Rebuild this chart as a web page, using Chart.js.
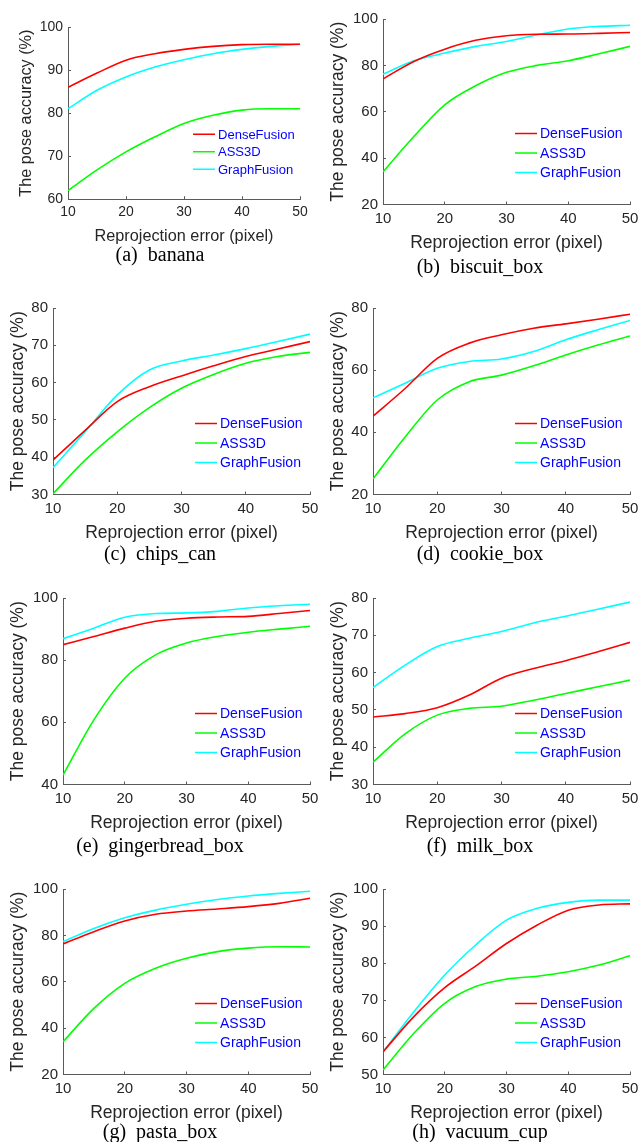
<!DOCTYPE html>
<html>
<head>
<meta charset="utf-8">
<script src="https://cdn.jsdelivr.net/npm/chart.js@4/dist/chart.umd.min.js"></script>
<style>
    body { margin: 0; background: #fff; width: 640px; height: 1142px; position: relative; overflow: hidden; }
    canvas { position: absolute; }
    .cap {
        position: absolute; width: 320px; text-align: center; color: #000;
        font-family: "Liberation Serif", "Times New Roman", serif;
        font-size: 20px; line-height: 20px; white-space: pre;
    }
</style>
</head>
<body>
<script>
// Shared axis data
const errorPixels = [10, 15, 20, 25, 30, 35, 40, 45, 50];
const methodNames = ['DenseFusion', 'ASS3D', 'GraphFusion'];
const methodColors = ['#ff0000', '#00ff00', '#00ffff'];

// Pose accuracy (%), at errorPixels
const bananaDense   = [86, 89.3, 92.3, 93.8, 94.8, 95.5, 95.9, 96, 96];
const bananaAss     = [62, 66.8, 71, 74.5, 77.6, 79.5, 80.7, 81, 81];
const bananaGraph   = [81, 85.3, 88.4, 90.7, 92.4, 93.8, 94.8, 95.5, 96];

const biscuitDense  = [74.2, 81.7, 87, 90.8, 92.8, 93.4, 93.5, 93.8, 94.2];
const biscuitAss    = [34.1, 49.3, 63, 71.2, 77, 80, 82, 85, 88.2];
const biscuitGraph  = [76.2, 82, 85.3, 88.2, 90.3, 93.2, 95.7, 96.8, 97.3];

const chipsDense    = [39.2, 47.2, 54.9, 58.9, 61.8, 64.5, 67, 69, 71];
const chipsAss      = [30.2, 39.2, 46.8, 53.3, 58.5, 62.2, 65.2, 67, 68.1];
const chipsGraph    = [37.2, 46.8, 56.7, 63.4, 65.8, 67.4, 69.1, 71, 73];

const cookieDense   = [45.2, 54.1, 63.8, 68.7, 71.4, 73.5, 74.9, 76.4, 78];
const cookieAss     = [25, 38.5, 50.4, 56.3, 58.4, 61.4, 64.9, 68.1, 71];
const cookieGraph   = [51.1, 55.8, 60.6, 62.8, 63.6, 66, 69.8, 73, 76];

const gingerDense   = [85, 87.6, 90.3, 92.5, 93.5, 93.9, 94.1, 95, 96];
const gingerAss     = [43, 60.8, 74.2, 81.7, 85.5, 87.6, 89, 90, 90.9];
const gingerGraph   = [86.9, 90.3, 93.8, 95, 95.2, 95.7, 96.8, 97.5, 98];

const milkDense     = [48.1, 49, 50.6, 54, 58.5, 61.1, 63.2, 65.6, 68.1];
const milkAss       = [36, 43.6, 48.6, 50.4, 51, 52.6, 54.4, 56.2, 58];
const milkGraph     = [56, 62, 67, 69.2, 71, 73.3, 75.1, 77, 78.9];

const pastaDense    = [76.3, 81.6, 86.2, 89.1, 90.5, 91.4, 92.4, 93.8, 96];
const pastaAss      = [34.1, 48.5, 59.3, 65.8, 70.1, 73, 74.5, 75.1, 75];
const pastaGraph    = [77.3, 83, 87.6, 90.9, 93.4, 95.5, 97, 98.1, 99];

const vacuumDense   = [56.1, 65.6, 73.4, 79.2, 85.3, 90.3, 94.3, 95.7, 96];
const vacuumAss     = [51.2, 61.1, 69.2, 73.7, 75.7, 76.5, 77.7, 79.5, 82];
const vacuumGraph   = [56.1, 66.9, 76.8, 84.9, 91.6, 94.8, 96.4, 97, 97];

// Panel captions and y ranges
const captions = ['(a)  banana', '(b)  biscuit_box', '(c)  chips_can', '(d)  cookie_box',
                  '(e)  gingerbread_box', '(f)  milk_box', '(g)  pasta_box', '(h)  vacuum_cup'];
const yMins  = [60, 20, 30, 20, 40, 30, 20, 50];
const yMaxs  = [100, 100, 80, 80, 100, 80, 100, 100];
const ySteps = [10, 20, 10, 20, 20, 10, 20, 10];

const panelSeries = [
    [bananaDense, bananaAss, bananaGraph],
    [biscuitDense, biscuitAss, biscuitGraph],
    [chipsDense, chipsAss, chipsGraph],
    [cookieDense, cookieAss, cookieGraph],
    [gingerDense, gingerAss, gingerGraph],
    [milkDense, milkAss, milkGraph],
    [pastaDense, pastaAss, pastaGraph],
    [vacuumDense, vacuumAss, vacuumGraph]
];

// Page layout: cell left, plot box (left, right, top, bottom), font scale, caption centre
const panelLayout = [
    { cx: 0,   L: 68,  R: 300, T: 27,  B: 199,  fs: 0.93, cap: 254 },
    { cx: 320, L: 383, R: 630, T: 19,  B: 204,  fs: 1,    cap: 266 },
    { cx: 0,   L: 53,  R: 310, T: 308, B: 494,  fs: 1,    cap: 553 },
    { cx: 320, L: 373, R: 630, T: 308, B: 494,  fs: 1,    cap: 553 },
    { cx: 0,   L: 63,  R: 310, T: 598, B: 784,  fs: 1,    cap: 845 },
    { cx: 320, L: 373, R: 630, T: 598, B: 784,  fs: 1,    cap: 845 },
    { cx: 0,   L: 63,  R: 310, T: 889, B: 1074, fs: 1,    cap: 1131 },
    { cx: 320, L: 383, R: 630, T: 889, B: 1074, fs: 1,    cap: 1131 }
];

const FONT = '"Liberation Sans", Arial, sans-serif';
const TEXT_COLOR = '#262626';
const AXIS_COLOR = '#5a5a5a';
const TICK_IN = 3;   // inward tick marks, matlab style

// Legend drawn inside the plot area, lower right
const insideLegend = {
    id: 'insideLegend',
    afterDatasetsDraw(chart, args, opts) {
        const { ctx, chartArea } = chart;
        const x0 = chartArea.right - opts.dx;
        ctx.save();
        ctx.font = opts.size + 'px ' + FONT;
        ctx.textBaseline = 'middle';
        ctx.textAlign = 'left';
        chart.data.datasets.forEach((ds, i) => {
            const y = chartArea.bottom - opts.dy + i * opts.gap;
            ctx.strokeStyle = ds.borderColor;
            ctx.lineWidth = 1.5;
            ctx.beginPath();
            ctx.moveTo(x0, y);
            ctx.lineTo(x0 + opts.lineLen, y);
            ctx.stroke();
            ctx.fillStyle = '#0000ff';
            ctx.fillText(ds.label, x0 + opts.lineLen + 3, y + 1);
        });
        ctx.restore();
    }
};

function makePanel(idx) {
    const lay = panelLayout[idx];
    const fs = lay.fs;
    const tickSize = 15 * fs;
    const titleSize = 17.5 * fs;
    const titleLH = titleSize * 1.2;
    const topPad = 14;
    const xAxisH = (idx === 0 ? 37 : 39) + titleLH / 2;
    const yTitleCenter = idx === 0 ? 27 : 18;

    const canvas = document.createElement('canvas');
    const h = Math.round(lay.B - lay.T + topPad + xAxisH);
    canvas.width = 320;
    canvas.height = h;
    canvas.style.left = lay.cx + 'px';
    canvas.style.top = (lay.T - topPad) + 'px';
    canvas.style.width = '320px';
    canvas.style.height = h + 'px';
    document.body.appendChild(canvas);

    const cap = document.createElement('div');
    cap.className = 'cap';
    cap.style.left = lay.cx + 'px';
    cap.style.top = (lay.cap - 10) + 'px';
    cap.textContent = captions[idx];
    document.body.appendChild(cap);

    const datasets = panelSeries[idx].map((vals, i) => ({
        label: methodNames[i],
        data: errorPixels.map((x, j) => ({ x: x, y: vals[j] })),
        borderColor: methodColors[i],
        backgroundColor: methodColors[i],
        borderWidth: 1.6,
        pointRadius: 0,
        cubicInterpolationMode: 'monotone',
        fill: false
    }));

    const gridOpts = {
        display: true, drawOnChartArea: false, drawTicks: true,
        tickLength: -TICK_IN, color: AXIS_COLOR, lineWidth: 1
    };

    return new Chart(canvas.getContext('2d'), {
        type: 'line',
        data: { datasets: datasets },
        plugins: [insideLegend],
        options: {
            responsive: false,
            animation: false,
            devicePixelRatio: 1,
            layout: { padding: { top: topPad, right: lay.cx + 320 - lay.R, left: 0, bottom: 0 } },
            plugins: {
                legend: { display: false },
                tooltip: { enabled: false },
                insideLegend: {
                    dx: idx === 0 ? 107 : 115,
                    dy: idx === 0 ? 65 : 71,
                    gap: idx === 0 ? 17.5 : 19.5,
                    lineLen: 22,
                    size: 14 * fs
                }
            },
            scales: {
                x: {
                    type: 'linear',
                    min: 10, max: 50,
                    ticks: { stepSize: 10, padding: 5 + TICK_IN, color: TEXT_COLOR, font: { family: FONT, size: tickSize } },
                    grid: gridOpts,
                    border: { display: true, color: AXIS_COLOR, width: 1 },
                    title: {
                        display: true, text: 'Reprojection error (pixel)', color: TEXT_COLOR,
                        font: { family: FONT, size: titleSize, lineHeight: 1.2 },
                        padding: { top: 0, bottom: 0 }
                    },
                    afterFit(scale) {
                        scale.height = xAxisH;
                        scale.paddingLeft = 0;
                        scale.paddingRight = 0;
                    }
                },
                y: {
                    min: yMins[idx], max: yMaxs[idx],
                    ticks: { stepSize: ySteps[idx], padding: 5 + TICK_IN, color: TEXT_COLOR, font: { family: FONT, size: tickSize } },
                    grid: gridOpts,
                    border: { display: true, color: AXIS_COLOR, width: 1 },
                    title: {
                        display: true, text: 'The pose accuracy (%)', color: TEXT_COLOR,
                        font: { family: FONT, size: titleSize, lineHeight: 1.2 },
                        padding: { top: yTitleCenter - titleLH / 2, bottom: 0 }
                    },
                    afterFit(scale) {
                        scale.width = lay.L - lay.cx;
                        scale.paddingTop = 0;
                        scale.paddingBottom = 0;
                    }
                }
            }
        }
    });
}

for (let i = 0; i < panelLayout.length; i++) {
    makePanel(i);
}
</script>
</body>
</html>
